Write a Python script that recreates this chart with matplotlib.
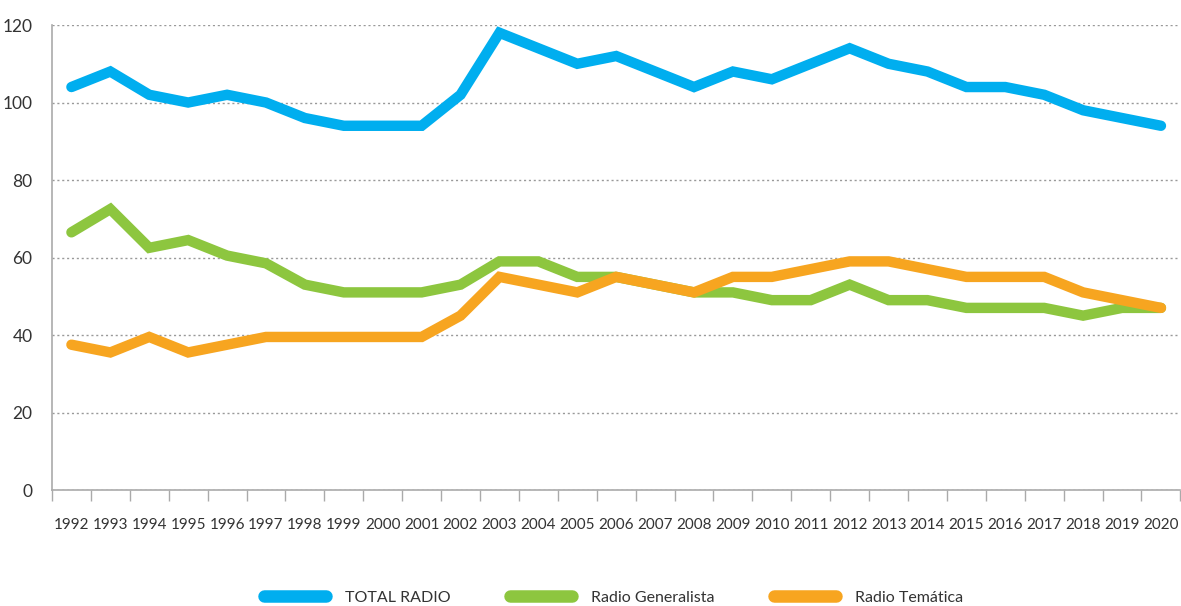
import matplotlib.pyplot as plt
from matplotlib.lines import Line2D

plt.rcParams['font.family'] = ['Lato', 'DejaVu Sans']

years = [str(y) for y in range(1992, 2021)]
total_radio = [104, 108, 102, 100, 102, 100, 96, 94, 94, 94, 102, 118, 114, 110, 112,
               108, 104, 108, 106, 110, 114, 110, 108, 104, 104, 102, 98, 96, 94]
generalista = [66.5, 72.5, 62.5, 64.5, 60.5, 58.5, 53, 51, 51, 51, 53, 59, 59, 55, 55,
               53, 51, 51, 49, 49, 53, 49, 49, 47, 47, 47, 45, 47, 47]
tematica = [37.5, 35.5, 39.5, 35.5, 37.5, 39.5, 39.5, 39.5, 39.5, 39.5, 45, 55, 53, 51, 55,
            53, 51, 55, 55, 57, 59, 59, 57, 55, 55, 55, 51, 49, 47]
labels = ['TOTAL RADIO', 'Radio Generalista', 'Radio Temática']
colors = ['#00AEEF', '#8DC63F', '#F7A520']

fig = plt.figure(figsize=(11.81, 6.06), dpi=100)
ax = fig.add_axes([0.044, 0.1914, 0.9555, 0.7673])

x = list(range(len(years)))
for series, c in zip([total_radio, generalista, tematica], colors):
    ax.plot(x, series, color=c, lw=7.5, solid_capstyle='round', solid_joinstyle='miter')

ax.set_xlim(-0.5, len(years) - 0.5)
ax.set_ylim(0, 120)
ax.set_yticks(range(0, 121, 20))
ax.yaxis.grid(True, linestyle=(0, (1.5, 2)), color='#999999', lw=1)
ax.set_axisbelow(True)

ax.set_xticks(x)
ax.set_xticklabels(years)
ax.set_xticks([i - 0.5 for i in range(len(years) + 1)], minor=True)
ax.tick_params(axis='x', which='major', length=0, pad=20, labelsize=11, labelcolor='#333333')
ax.tick_params(axis='x', which='minor', length=8, color='#aaaaaa', width=1)
ax.tick_params(axis='y', length=0, pad=14, labelsize=12.5, labelcolor='#333333')

for s in ['top', 'right']:
    ax.spines[s].set_visible(False)
for s in ['left', 'bottom']:
    ax.spines[s].set_color('#aaaaaa')
    ax.spines[s].set_linewidth(1.2)

handles = [Line2D([0], [0], color=c, lw=9, solid_capstyle='round') for c in colors]
fig.legend(handles, labels, loc='center', bbox_to_anchor=(0.5195, 0.014), ncol=3,
           frameon=False, fontsize=11.5, handlelength=3.9, handletextpad=1.2,
           columnspacing=3.7, labelcolor='#333333')

fig.savefig('out.png', dpi=100)
